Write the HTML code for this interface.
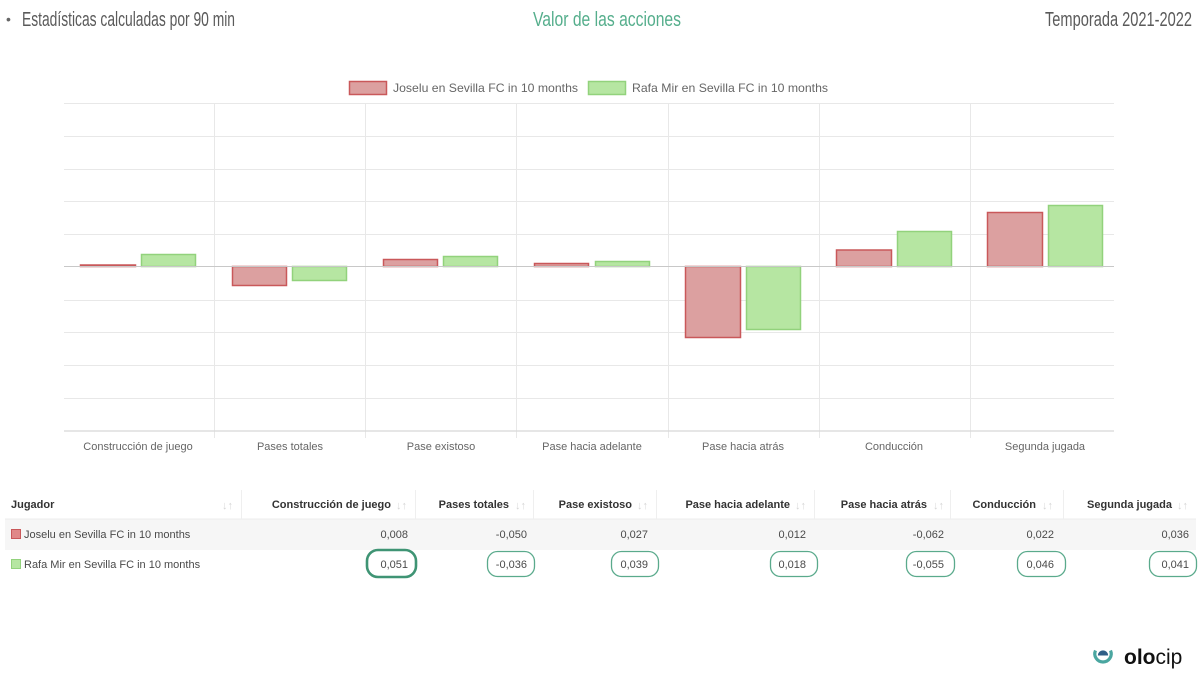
<!DOCTYPE html>
<html><head><meta charset="utf-8"><style>
html,body{margin:0;padding:0;background:#fff;}
svg{display:block;}
</style></head><body>
<svg width="1200" height="675" viewBox="0 0 1200 675" xmlns="http://www.w3.org/2000/svg" font-family="'Liberation Sans', Arial, sans-serif">
<!-- header -->
<text x="6" y="24" font-size="14" fill="#666">•</text>
<text x="22" y="26" font-size="20" fill="#5a5a5a" textLength="213" lengthAdjust="spacingAndGlyphs" font-family="'Liberation Sans Narrow','Liberation Sans',sans-serif">Estadísticas calculadas por 90 min</text>
<text x="533" y="26" font-size="20" fill="#55ae8c" textLength="148" lengthAdjust="spacingAndGlyphs" font-family="'Liberation Sans Narrow','Liberation Sans',sans-serif">Valor de las acciones</text>
<text x="1045" y="26" font-size="20" fill="#5a5a5a" textLength="147" lengthAdjust="spacingAndGlyphs" font-family="'Liberation Sans Narrow','Liberation Sans',sans-serif">Temporada 2021-2022</text>

<!-- legend -->
<rect x="349.5" y="81.5" width="37" height="13" fill="#dca0a0" stroke="#c9585a" stroke-width="1.5"/>
<text x="393" y="92" font-size="12" fill="#666" textLength="185" lengthAdjust="spacingAndGlyphs">Joselu en Sevilla FC in 10 months</text>
<rect x="588.5" y="81.5" width="37" height="13" fill="#b6e6a2" stroke="#92d27c" stroke-width="1.5"/>
<text x="632" y="92" font-size="12" fill="#666" textLength="196" lengthAdjust="spacingAndGlyphs">Rafa Mir en Sevilla FC in 10 months</text>

<!-- grid -->
<g stroke="#e8e8e8" stroke-width="1">
<line x1="64" y1="103.5" x2="1114" y2="103.5"/>
<line x1="64" y1="136.5" x2="1114" y2="136.5"/>
<line x1="64" y1="169.5" x2="1114" y2="169.5"/>
<line x1="64" y1="201.5" x2="1114" y2="201.5"/>
<line x1="64" y1="234.5" x2="1114" y2="234.5"/>
<line x1="64" y1="300.5" x2="1114" y2="300.5"/>
<line x1="64" y1="332.5" x2="1114" y2="332.5"/>
<line x1="64" y1="365.5" x2="1114" y2="365.5"/>
<line x1="64" y1="398.5" x2="1114" y2="398.5"/>
<line x1="214.5" y1="103" x2="214.5" y2="438"/>
<line x1="365.5" y1="103" x2="365.5" y2="438"/>
<line x1="516.5" y1="103" x2="516.5" y2="438"/>
<line x1="668.5" y1="103" x2="668.5" y2="438"/>
<line x1="819.5" y1="103" x2="819.5" y2="438"/>
<line x1="970.5" y1="103" x2="970.5" y2="438"/>
</g>
<line x1="64" y1="431" x2="1114" y2="431" stroke="#d8d8d8" stroke-width="1.2"/>

<!-- bars -->
<g stroke-width="1.5">
<rect x="80.5" y="265" width="55" height="1.5" fill="#dca0a0" stroke="#c9585a"/>
<rect x="141.5" y="254.5" width="54" height="12" fill="#b6e6a2" stroke="#92d27c"/>

<rect x="232.5" y="266.5" width="54" height="19" fill="#dca0a0" stroke="#c9585a"/>
<rect x="292.5" y="266.5" width="54" height="14" fill="#b6e6a2" stroke="#92d27c"/>

<rect x="383.5" y="259.5" width="54" height="7" fill="#dca0a0" stroke="#c9585a"/>
<rect x="443.5" y="256.5" width="54" height="10" fill="#b6e6a2" stroke="#92d27c"/>

<rect x="534.5" y="263.5" width="54" height="3" fill="#dca0a0" stroke="#c9585a"/>
<rect x="595.5" y="261.5" width="54" height="5" fill="#b6e6a2" stroke="#92d27c"/>

<rect x="685.5" y="266.5" width="55" height="71" fill="#dca0a0" stroke="#c9585a"/>
<rect x="746.5" y="266.5" width="54" height="63" fill="#b6e6a2" stroke="#92d27c"/>

<rect x="836.5" y="250" width="55" height="16.5" fill="#dca0a0" stroke="#c9585a"/>
<rect x="897.5" y="231.5" width="54" height="35" fill="#b6e6a2" stroke="#92d27c"/>

<rect x="987.5" y="212.5" width="55" height="54" fill="#dca0a0" stroke="#c9585a"/>
<rect x="1048.5" y="205.5" width="54" height="61" fill="#b6e6a2" stroke="#92d27c"/>
</g>
<line x1="64" y1="266.5" x2="1114" y2="266.5" stroke="#c8c8c8" stroke-width="1"/>

<!-- axis labels -->
<g font-size="11" fill="#666" text-anchor="middle">
<text x="138" y="450">Construcción de juego</text>
<text x="290" y="450">Pases totales</text>
<text x="441" y="450">Pase existoso</text>
<text x="592" y="450">Pase hacia adelante</text>
<text x="743" y="450">Pase hacia atrás</text>
<text x="894" y="450">Conducción</text>
<text x="1045" y="450">Segunda jugada</text>
</g>

<!-- table -->
<rect x="5" y="519" width="1191" height="31" fill="#f6f6f6"/>
<line x1="5" y1="519" x2="1196" y2="519" stroke="#ececec"/>
<g stroke="#efefef">
<line x1="241.5" y1="490" x2="241.5" y2="519"/>
<line x1="415.5" y1="490" x2="415.5" y2="519"/>
<line x1="533.5" y1="490" x2="533.5" y2="519"/>
<line x1="656.5" y1="490" x2="656.5" y2="519"/>
<line x1="814.5" y1="490" x2="814.5" y2="519"/>
<line x1="950.5" y1="490" x2="950.5" y2="519"/>
<line x1="1063.5" y1="490" x2="1063.5" y2="519"/>
</g>
<g font-size="11" font-weight="bold" fill="#333">
<text x="11" y="508">Jugador</text>
<text x="391" y="508" text-anchor="end">Construcción de juego</text>
<text x="509" y="508" text-anchor="end">Pases totales</text>
<text x="632" y="508" text-anchor="end">Pase existoso</text>
<text x="790" y="508" text-anchor="end">Pase hacia adelante</text>
<text x="927" y="508" text-anchor="end">Pase hacia atrás</text>
<text x="1036" y="508" text-anchor="end">Conducción</text>
<text x="1172" y="508" text-anchor="end">Segunda jugada</text>
</g>
<g font-size="11" fill="#d6d6d6">
<text x="222" y="509">↓↑</text>
<text x="396" y="509">↓↑</text>
<text x="515" y="509">↓↑</text>
<text x="637" y="509">↓↑</text>
<text x="795" y="509">↓↑</text>
<text x="933" y="509">↓↑</text>
<text x="1042" y="509">↓↑</text>
<text x="1177" y="509">↓↑</text>
</g>
<rect x="11.5" y="529.5" width="9" height="9" fill="#e08888" stroke="#c9585a" stroke-width="1"/>
<rect x="11.5" y="559.5" width="9" height="9" fill="#b6e6a2" stroke="#92d27c" stroke-width="1"/>
<g font-size="11" fill="#4a4a4a">
<text x="24" y="538">Joselu en Sevilla FC in 10 months</text>
<text x="24" y="568">Rafa Mir en Sevilla FC in 10 months</text>
</g>
<g font-size="11" fill="#4a4a4a" text-anchor="end">
<text x="408" y="538">0,008</text>
<text x="527" y="538">-0,050</text>
<text x="648" y="538">0,027</text>
<text x="806" y="538">0,012</text>
<text x="944" y="538">-0,062</text>
<text x="1054" y="538">0,022</text>
<text x="1189" y="538">0,036</text>
<text x="408" y="568">0,051</text>
<text x="527" y="568">-0,036</text>
<text x="648" y="568">0,039</text>
<text x="806" y="568">0,018</text>
<text x="944" y="568">-0,055</text>
<text x="1054" y="568">0,046</text>
<text x="1189" y="568">0,041</text>
</g>
<g fill="none" stroke="#5aaa8c" stroke-width="1.3">
<rect x="367" y="550" width="49" height="27" rx="11" stroke="#3f9474" stroke-width="2.6"/>
<rect x="487.5" y="551.5" width="47" height="25" rx="10"/>
<rect x="611.5" y="551.5" width="47" height="25" rx="10"/>
<rect x="770.5" y="551.5" width="47" height="25" rx="10"/>
<rect x="906.5" y="551.5" width="48" height="25" rx="10"/>
<rect x="1017.5" y="551.5" width="48" height="25" rx="10"/>
<rect x="1149.5" y="551.5" width="47" height="25" rx="10"/>
</g>

<!-- logo -->
<path d="M1095.5 650.5 A8.2 8.2 0 1 0 1110.5 650.5" fill="none" stroke="#4aa6a0" stroke-width="3.2"/>
<path d="M1097.8 655.5 A5.2 5.2 0 0 1 1108.2 655.5 Z" fill="#2f5f86"/>
<text x="1124" y="664" font-size="21" fill="#111" font-weight="bold">olo<tspan font-weight="normal">cip</tspan></text>
</svg>
</body></html>
